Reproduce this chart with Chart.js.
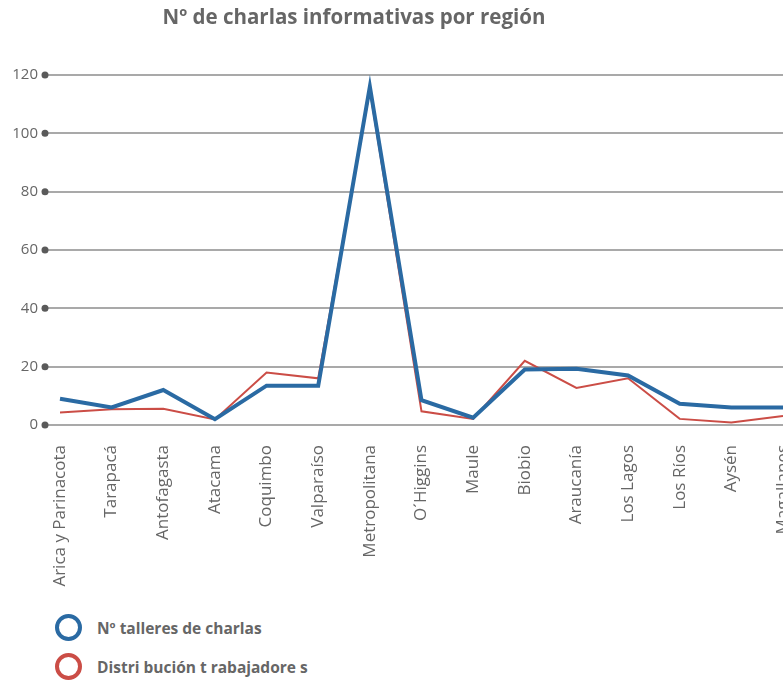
<!DOCTYPE html>
<html>
<head>
<meta charset="utf-8">
<script src="https://cdn.jsdelivr.net/npm/chart.js@4.4.1/dist/chart.umd.min.js"></script>
<style>
  body { margin: 0; background: #fff; }
  #wrap { position: relative; width: 783px; height: 683px; overflow: hidden; }
  #legend { position: absolute; left: 55px; top: 608px; font-family: "Open Sans", sans-serif; font-weight: bold; font-size: 15.5px; color: #666; }
  .item { display: flex; align-items: center; height: 39px; }
  .dot { width: 27px; height: 27px; border-radius: 50%; border: 4px solid; box-sizing: border-box; margin-right: 15px; }
</style>
</head>
<body>
<div id="wrap">
  <canvas id="chart" width="783" height="600"></canvas>
  <div id="legend"></div>
</div>
<script>
var regiones = ["Arica y Parinacota", "Tarapacá", "Antofagasta", "Atacama", "Coquimbo", "Valparaíso",
  "Metropolitana", "O´Higgins", "Maule", "Biobio", "Araucanía", "Los Lagos", "Los Ríos", "Aysén", "Magallanes"];
var talleres = [9, 6, 12, 2, 13.5, 13.5, 116, 8.5, 2.5, 19, 19.3, 17, 7.3, 6, 6];
var trabajadores = [4.3, 5.4, 5.6, 1.9, 18, 16, 115, 4.7, 2.1, 22, 12.7, 16, 2.1, 0.9, 3.1];
var yTicks = [0, 20, 40, 60, 80, 100, 120];

var azul = "#2a6aa3";
var rojo = "#cb4d46";

// dots at the left end of each gridline + title
var extras = {
  id: 'extras',
  afterDraw: function(chart) {
    var ctx = chart.ctx;
    var y = chart.scales.y;
    ctx.save();
    ctx.fillStyle = "#5a5a5a";
    yTicks.forEach(function(v) {
      ctx.beginPath();
      ctx.arc(45, y.getPixelForValue(v), 3.5, 0, Math.PI * 2);
      ctx.fill();
    });
    ctx.fillStyle = "#666";
    ctx.font = "bold 20.5px 'Open Sans', sans-serif";
    ctx.textAlign = "center";
    ctx.textBaseline = "middle";
    ctx.fillText("Nº de charlas informativas por región", 354, 18);
    ctx.restore();
  }
};

var chart = new Chart(document.getElementById("chart"), {
  type: 'line',
  data: {
    labels: regiones,
    datasets: [
      { label: "Nº talleres de charlas", data: talleres, borderColor: azul, backgroundColor: "#fff",
        borderWidth: 4, order: 1 },
      { label: "Distri bución t rabajadore s", data: trabajadores, borderColor: rojo, backgroundColor: "#fff",
        borderWidth: 2, order: 2 }
    ]
  },
  options: {
    responsive: false,
    animation: false,
    layout: { padding: { top: 75, right: 0, left: 0, bottom: 0 } },
    elements: {
      line: { tension: 0, borderJoinStyle: 'miter' },
      point: { radius: 0 }
    },
    plugins: {
      legend: { display: false },
      title: { display: false },
      tooltip: { enabled: false }
    },
    scales: {
      x: {
        offset: false,
        grid: { display: false },
        border: { display: false },
        ticks: { autoSkip: false, maxRotation: 90, minRotation: 90, padding: 12, color: "#666",
          font: { family: "'Open Sans', sans-serif", size: 17 } },
        afterFit: function(s) { s.height = 175; s.paddingLeft = 0; s.paddingRight = 0; }
      },
      y: {
        min: 0, max: 120,
        afterBuildTicks: function(s) { s.ticks = yTicks.map(function(v) { return { value: v }; }); },
        grid: { color: "#a9a9a9", lineWidth: 2, tickLength: 15, tickColor: "#a9a9a9" },
        border: { display: false },
        ticks: { padding: 7, color: "#666", font: { family: "'Open Sans', sans-serif", size: 15 } },
        afterFit: function(s) { s.width = 60; }
      }
    }
  },
  plugins: [extras]
});

var legend = document.getElementById("legend");
chart.data.datasets.forEach(function(ds) {
  var item = document.createElement("div");
  item.className = "item";
  var dot = document.createElement("span");
  dot.className = "dot";
  dot.style.borderColor = ds.borderColor;
  var txt = document.createElement("span");
  txt.textContent = ds.label;
  item.appendChild(dot);
  item.appendChild(txt);
  legend.appendChild(item);
});
</script>
</body>
</html>
